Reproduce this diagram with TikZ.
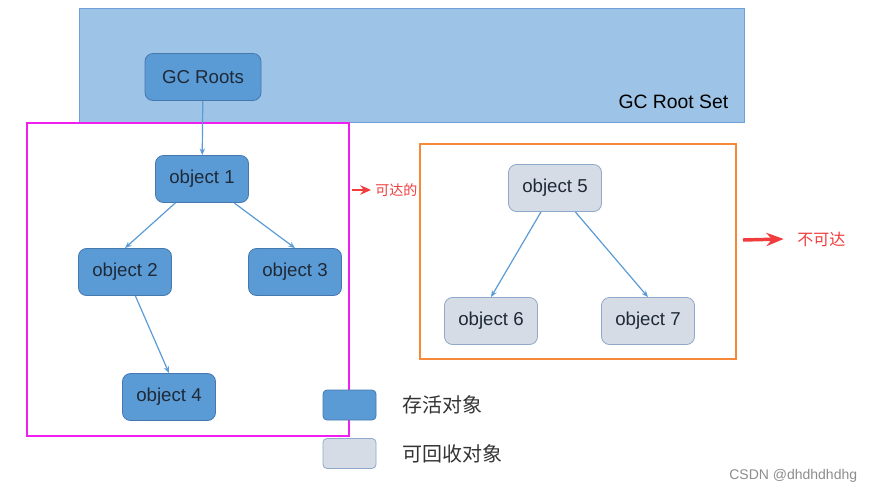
\documentclass[tikz,border=0pt]{standalone}
\usepackage{fontspec}
\setmainfont{Liberation Sans}
\newfontfamily\cjk{Noto Sans CJK SC}
\usetikzlibrary{arrows.meta,positioning}

\definecolor{vivo}{HTML}{5B9BD5}
\definecolor{vivobordo}{HTML}{4678B0}
\definecolor{morto}{HTML}{D6DCE5}
\definecolor{mortobordo}{HTML}{8EA9C9}
\definecolor{rootset}{HTML}{9DC3E6}
\definecolor{rootsetbordo}{HTML}{6F9FD8}
\definecolor{freccia}{HTML}{5B9BD5}
\definecolor{testo}{HTML}{1E2A38}
\definecolor{magenta2}{HTML}{F01EF0}
\definecolor{arancio}{HTML}{F5883A}
\definecolor{rosso}{HTML}{F03C3C}

\begin{document}
\begin{tikzpicture}[x=0.75pt, y=-0.75pt, >={Stealth[length=5pt, width=4pt]}, semithick]

%====Definizione stili==========================================================

	\tikzstyle{obj}=[rounded corners=6pt, minimum width=69.75pt, minimum height=35.25pt, font=\fontsize{14}{16}\selectfont, text=testo]
	\tikzstyle{alive}=[obj, fill=vivo, draw=vivobordo]
	\tikzstyle{dead}=[obj, fill=morto, draw=mortobordo]
	\tikzstyle{link}=[->, draw=freccia, line width=0.9pt]
	\tikzstyle{nota}=[text=rosso, inner sep=0pt]
	\tikzstyle{legenda}=[text=black!80, inner sep=0pt, font=\cjk\fontsize{15}{17}\selectfont]

	\useasboundingbox (0,0) rectangle (872,493);

%====Riquadri===================================================================

	\draw[fill=rootset, draw=rootsetbordo] (79,8) rectangle (744,122);
	\node[font=\fontsize{14.5}{16}\selectfont, text=black, anchor=east] (set) at (733,102) {GC Root Set};
	\draw[magenta2, line width=1.5pt] (27,123) rectangle (349,436);
	\draw[arancio, line width=1.5pt] (420,144) rectangle (736,359);

%====Oggetti e posizione========================================================

	\node[alive, minimum width=87pt] (R)  at (203,77)  {GC Roots};
	\node[alive]                     (O1) at (202,179) {object 1};
	\node[alive]                     (O2) at (125,272) {object 2};
	\node[alive]                     (O3) at (295,272) {object 3};
	\node[alive]                     (O4) at (169,397) {object 4};
	\node[dead]                      (O5) at (555,188) {object 5};
	\node[dead]                      (O6) at (491,321) {object 6};
	\node[dead]                      (O7) at (648,321) {object 7};

%====Collegamenti===============================================================

	\draw[link] (R)  -- (O1);
	\draw[link] (O1) -- (O2.north);
	\draw[link] (O1) -- (O3.north);
	\draw[link] (O2) -- (O4.north);
	\draw[link] (O5) -- (O6.north);
	\draw[link] (O5) -- (O7.north);

%====Note=======================================================================

	\coordinate (a1) at (352,190);
	\node[nota, anchor=west, font=\cjk\fontsize{10.5}{12}\selectfont] (raggiungibile) at (375,190) {可达的};
	\draw[rosso, line width=1.4pt, -{Stealth[length=8pt, width=7pt]}] (a1) -- ([xshift=-3pt]raggiungibile.west);

	\coordinate (a2) at (743,240);
	\node[nota, anchor=west, font=\cjk\fontsize{12}{14}\selectfont] (irraggiungibile) at (797,239) {不可达};
	\draw[rosso, line width=2.6pt, -{Stealth[length=13pt, width=10pt]}] (a2) -- ([xshift=-10pt]irraggiungibile.west);

%====Legenda====================================================================

	\node[alive, minimum width=39.75pt, minimum height=22.5pt, rounded corners=3pt] (legA) at (349.5,405) {};
	\node[dead,  minimum width=39.75pt, minimum height=22.5pt, rounded corners=3pt] (legB) at (349.5,453.5) {};
	\node[legenda, right=19.5pt of legA] (vivi) {存活对象};
	\node[legenda, right=19.5pt of legB] (morti) {可回收对象};

	\node[text=black!45, font=\fontsize{10.5}{12}\selectfont, anchor=east] (csdn) at (862,476) {CSDN @dhdhdhdhg};

\end{tikzpicture}
\end{document}
